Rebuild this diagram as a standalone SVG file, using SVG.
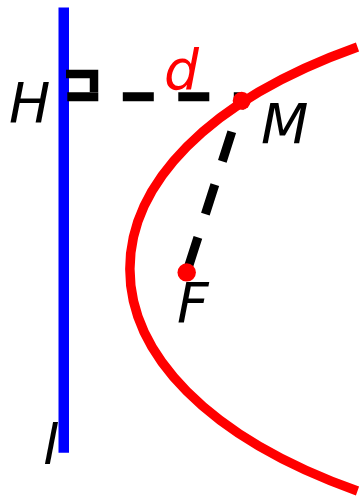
<svg xmlns="http://www.w3.org/2000/svg" width="360" height="497" viewBox="0 0 360 497">
<style>
.lbl{font-family:"DejaVu Sans",sans-serif;font-style:italic;font-size:55px}
.dash{stroke:#000;stroke-width:9;fill:none;stroke-dasharray:31 24.5}
</style>
<rect width="360" height="497" fill="#fff"/>
<g id="directrix">
<line x1="63.75" y1="7.5" x2="63.75" y2="452.7" stroke="#00f" stroke-width="10.5"/>
<text class="lbl" x="43" y="464" fill="#000">l</text>
</g>
<g id="connectors">
<path d="M66 74H94V92" stroke="#000" stroke-width="8.5" fill="none" stroke-linejoin="miter"/>
<line class="dash" x1="67.3" y1="96.7" x2="241.7" y2="96.7"/>
<line class="dash" x1="241.7" y1="100.8" x2="186.7" y2="272.4" stroke-dashoffset="23"/>
</g>
<g id="parabola">
<path d="M357.5 47C54 155 54 383 357.5 491" stroke="#f00" stroke-width="9.5" fill="none"/>
</g>
<g id="H"><text class="lbl" x="9" y="121.7" fill="#000">H</text></g>
<g id="d"><text class="lbl" x="164" y="89" fill="#f00">d</text></g>
<g id="M"><circle cx="241.7" cy="100.8" r="9" fill="#f00"/><text class="lbl" x="261" y="142.7" fill="#000">M</text></g>
<g id="F"><circle cx="186.7" cy="272.4" r="9.2" fill="#f00"/><text class="lbl" x="177" y="321.7" fill="#000">F</text></g>
</svg>
